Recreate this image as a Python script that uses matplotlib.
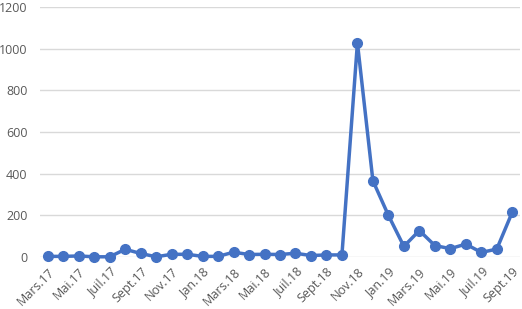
import matplotlib
matplotlib.use("Agg")
import matplotlib.pyplot as plt

months = ["Mars.17","Avr.17","Mai.17","Juin.17","Juil.17","Août.17","Sept.17","Oct.17","Nov.17","Déc.17",
          "Jan.18","Févr.18","Mars.18","Avr.18","Mai.18","Juin.18","Juil.18","Août.18","Sept.18","Oct.18",
          "Nov.18","Déc.18","Jan.19","Févr.19","Mars.19","Avr.19","Mai.19","Juin.19","Juil.19","Août.19","Sept.19"]
values = [3, 3, 5, 1, 1, 37, 17, 1, 13, 13,
          3, 3, 23, 12, 13, 12, 18, 7, 10, 10,
          1028, 366, 200, 51, 127, 55, 40, 62, 22, 38, 215]
yticks = [0, 200, 400, 600, 800, 1000, 1200]

plt.rcParams['font.family'] = ['Open Sans', 'DejaVu Sans']
fig = plt.figure(figsize=(5.22, 3.09), dpi=100)
ax = fig.add_axes([40/522, 1-257/309, 480/522, 250/309])
x = list(range(len(values)))
ax.plot(x, values, color="#4472C4", linewidth=2.5, marker="o", markersize=7, zorder=3)
ax.set_xlim(-0.5, len(values) - 0.5)
ax.set_ylim(0, 1200)
ax.set_yticks(yticks)
ax.set_yticklabels([str(v) for v in yticks])
ax.set_xticks(x[::2])
ax.set_xticklabels(months[::2], rotation=45, ha="right", rotation_mode="anchor")
ax.grid(axis="y", color="#D9D9D9", linewidth=1)
ax.set_axisbelow(True)
for s in ax.spines.values():
    s.set_visible(False)
ax.tick_params(axis="both", length=0, colors="#595959", labelsize=9)
ax.tick_params(axis="y", pad=9)
ax.tick_params(axis="x", pad=6)
for l in ax.lines:
    l.set_clip_on(False)
fig.savefig("out.png", dpi=100)
